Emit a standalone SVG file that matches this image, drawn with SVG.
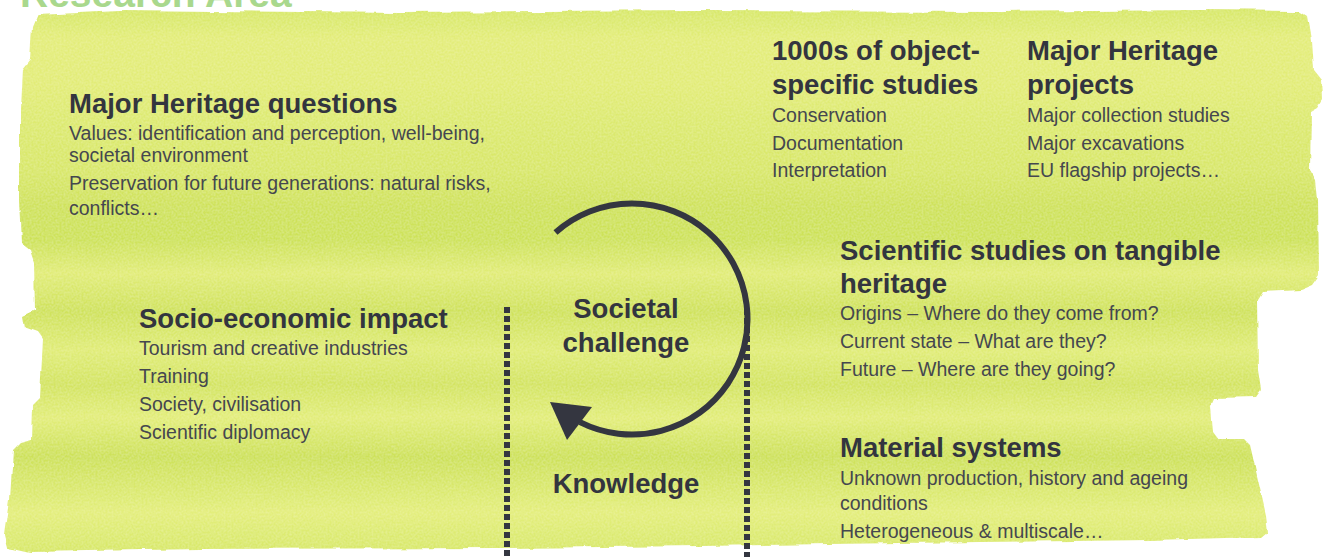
<svg xmlns="http://www.w3.org/2000/svg" width="1327" height="557" viewBox="0 0 1327 557">
<style>
  .t{font-family:"Liberation Sans",Arial,sans-serif;font-weight:bold;font-size:27.5px;fill:#33353f}
  .b{font-family:"Liberation Sans",Arial,sans-serif;font-size:19.5px;fill:#45474f}
  .c{font-family:"Liberation Sans",Arial,sans-serif;font-weight:bold;font-size:27.5px;fill:#33353f;text-anchor:middle}
  .dots{stroke:#343640;stroke-width:6;stroke-dasharray:6 3;fill:none}
</style>
<defs>
  <linearGradient id="bg" gradientUnits="userSpaceOnUse" x1="0" y1="0" x2="0" y2="557">
    <stop offset="0" stop-color="#d3e663"/>
    <stop offset="0.07" stop-color="#e3ed7a"/>
    <stop offset="0.15" stop-color="#e2ec78"/>
    <stop offset="0.24" stop-color="#dbe96e"/>
    <stop offset="0.31" stop-color="#d8e769"/>
    <stop offset="0.37" stop-color="#cfe25b"/>
    <stop offset="0.43" stop-color="#cde259"/>
    <stop offset="0.49" stop-color="#e1ec78"/>
    <stop offset="0.56" stop-color="#cfe25b"/>
    <stop offset="0.63" stop-color="#e0ec77"/>
    <stop offset="0.69" stop-color="#d3e461"/>
    <stop offset="0.75" stop-color="#e2ed7a"/>
    <stop offset="0.82" stop-color="#cde159"/>
    <stop offset="0.92" stop-color="#e3ee7c"/>
    <stop offset="1" stop-color="#d6e766"/>
  </linearGradient>
  <filter id="rough" x="-3%" y="-3%" width="106%" height="106%">
    <feTurbulence type="fractalNoise" baseFrequency="0.035" numOctaves="3" seed="3" result="n"/>
    <feDisplacementMap in="SourceGraphic" in2="n" scale="6" xChannelSelector="R" yChannelSelector="G" result="d"/>
    <feTurbulence type="fractalNoise" baseFrequency="0.5" numOctaves="2" seed="5" result="grain"/>
    <feColorMatrix in="grain" type="matrix" values="0 0 0 0 1  0 0 0 0 1  0 0 0 0 0.7  0 0 0 0.4 -0.12" result="g2"/>
    <feComposite in="g2" in2="d" operator="in" result="g3"/>
    <feMerge><feMergeNode in="d"/><feMergeNode in="g3"/></feMerge>
  </filter>
</defs>
<rect width="1327" height="557" fill="#ffffff"/>
<text x="20" y="6.5" font-family="Liberation Sans, Arial, sans-serif" font-weight="bold" font-size="39" fill="#a9d88d">Research Area</text>
<g id="background">
  <path filter="url(#rough)" fill="url(#bg)" d="M38,14 L120,10 L400,13 L700,11 L1000,12 L1200,10 L1300,11 L1308,16 L1312,40 L1314,70 L1322,80 L1323,100 L1318,108 L1311,112 L1310,170 L1316,180 L1318,200 L1319,275 L1312,285 L1300,290 L1262,292 L1257,300 L1258,370 L1261,390 L1256,397 L1215,398 L1212,405 L1214,432 L1220,440 L1245,440 L1250,445 L1258,480 L1266,515 L1268,532 L1262,537 L1150,540 L900,543 L700,546 L500,548 L200,549 L30,552 L8,547 L5,535 L10,500 L13,450 L20,443 L32,440 L33,405 L40,398 L43,340 L38,333 L24,328 L22,316 L35,310 L34,262 L30,250 L22,244 L20,200 L20,110 L22,70 L30,60 L32,28 Z"/>
</g>
<g id="dividers">
  <line class="dots" x1="507" y1="307" x2="507" y2="557"/>
  <line class="dots" x1="747" y1="309" x2="747" y2="557"/>
</g>
<g id="connectors">
  <path d="M555.5,232.5 A115.5,115.5 0 1 1 579.9,422.1" fill="none" stroke="#343640" stroke-width="6"/>
  <polygon points="550,402 592,407 567,440" fill="#343640"/>
</g>
<g id="cycle-labels">
  <text class="c" x="626" y="318">Societal</text>
  <text class="c" x="626" y="352">challenge</text>
  <text class="c" x="626" y="493">Knowledge</text>
</g>
<g id="major-heritage-questions">
  <text class="t" x="69" y="112.5">Major Heritage questions</text>
  <text class="b" x="69" y="140">Values: identification and perception, well-being,</text>
  <text class="b" x="69" y="162">societal environment</text>
  <text class="b" x="69" y="190">Preservation for future generations: natural risks,</text>
  <text class="b" x="69" y="215">conflicts…</text>
</g>
<g id="object-studies">
  <text class="t" x="772" y="60">1000s of object-</text>
  <text class="t" x="772" y="94">specific studies</text>
  <text class="b" x="772" y="122">Conservation</text>
  <text class="b" x="772" y="150">Documentation</text>
  <text class="b" x="772" y="177">Interpretation</text>
</g>
<g id="major-heritage-projects">
  <text class="t" x="1027" y="60">Major Heritage</text>
  <text class="t" x="1027" y="94">projects</text>
  <text class="b" x="1027" y="122">Major collection studies</text>
  <text class="b" x="1027" y="150">Major excavations</text>
  <text class="b" x="1027" y="177">EU flagship projects…</text>
</g>
<g id="socio-economic-impact">
  <text class="t" x="139" y="328">Socio-economic impact</text>
  <text class="b" x="139" y="355">Tourism and creative industries</text>
  <text class="b" x="139" y="383">Training</text>
  <text class="b" x="139" y="411">Society, civilisation</text>
  <text class="b" x="139" y="439">Scientific diplomacy</text>
</g>
<g id="scientific-studies">
  <text class="t" x="840" y="260">Scientific studies on tangible</text>
  <text class="t" x="840" y="293">heritage</text>
  <text class="b" x="840" y="320">Origins – Where do they come from?</text>
  <text class="b" x="840" y="348">Current state – What are they?</text>
  <text class="b" x="840" y="376">Future – Where are they going?</text>
</g>
<g id="material-systems">
  <text class="t" x="840" y="457">Material systems</text>
  <text class="b" x="840" y="485">Unknown production, history and ageing</text>
  <text class="b" x="840" y="510">conditions</text>
  <text class="b" x="840" y="538">Heterogeneous &amp; multiscale…</text>
</g>
</svg>
